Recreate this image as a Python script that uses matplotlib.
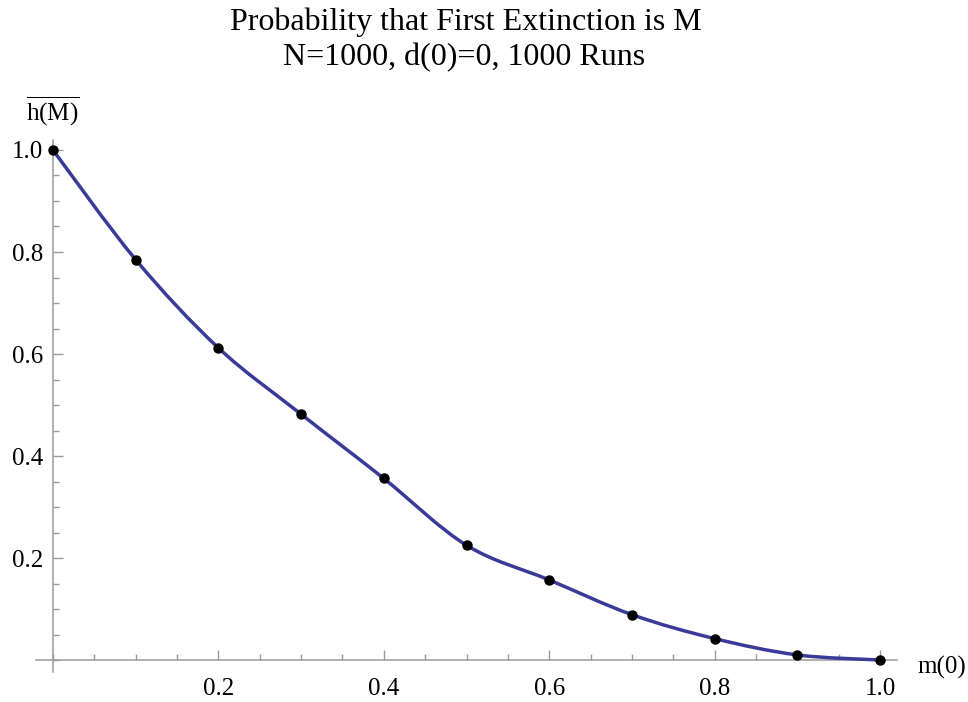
import numpy as np
import matplotlib
matplotlib.use("Agg")
import matplotlib.pyplot as plt
from matplotlib.path import Path
from matplotlib.patches import PathPatch
from matplotlib.ticker import MultipleLocator, FixedLocator

plt.rcParams['font.family'] = ['Liberation Serif', 'DejaVu Serif']
plt.rcParams['mathtext.fontset'] = 'custom'
plt.rcParams['mathtext.rm'] = 'Liberation Serif'

# data
m0 = [0.0, 0.1, 0.2, 0.3, 0.4, 0.5, 0.6, 0.7, 0.8, 0.9, 1.0]
hM = [1.0, 0.785, 0.612, 0.482, 0.356, 0.225, 0.157, 0.089, 0.042, 0.010, 0.0]
xticks = [0.2, 0.4, 0.6, 0.8, 1.0]
yticks = [0.2, 0.4, 0.6, 0.8, 1.0]

LINE_C = '#3a3a98'
AX_C = '#9a9a9a'

fig = plt.figure(figsize=(9.68, 7.02), dpi=100)
ax = fig.add_axes([36/968, 30/702, 861/968, 532/702])
ax.set_xlim(-0.0205, 1.0205)
ax.set_ylim(-0.0235, 1.0196)

# smooth curve through the points (catmull-rom as bezier segments)
P = np.column_stack([m0, hM])
P_ext = np.vstack([P[0], P, P[-1]])
verts = [tuple(P[0])]
codes = [Path.MOVETO]
for i in range(1, len(P_ext) - 2):
    p0, p1, p2, p3 = P_ext[i-1], P_ext[i], P_ext[i+1], P_ext[i+2]
    c1 = p1 + (p2 - p0) / 6.0
    c2 = p2 - (p3 - p1) / 6.0
    verts += [tuple(c1), tuple(c2), tuple(p2)]
    codes += [Path.CURVE4] * 3
ax.add_patch(PathPatch(Path(verts, codes), facecolor='none', edgecolor=LINE_C,
                       lw=2.5, capstyle='round', joinstyle='round', zorder=3))
ax.plot(m0, hM, 'o', color='black', ms=6.5, zorder=4, clip_on=False)

for s in ['top', 'right']:
    ax.spines[s].set_visible(False)
ax.spines['left'].set_position(('data', 0))
ax.spines['bottom'].set_position(('data', 0))
for s in ['left', 'bottom']:
    ax.spines[s].set_color(AX_C)
    ax.spines[s].set_linewidth(1.1)

ax.xaxis.set_major_locator(FixedLocator(xticks))
ax.yaxis.set_major_locator(FixedLocator(yticks))
ax.xaxis.set_minor_locator(MultipleLocator(0.05))
ax.yaxis.set_minor_locator(MultipleLocator(0.05))
ax.set_xticklabels(['%.1f' % v for v in xticks])
ax.set_yticklabels(['%.1f' % v for v in yticks])
ax.tick_params(which='both', direction='in', color=AX_C, width=1.0)
ax.tick_params(which='major', length=7)
ax.tick_params(which='minor', length=4)
ax.tick_params(axis='x', which='major', pad=13, labelsize=18)
ax.tick_params(axis='y', which='major', pad=7, labelsize=18)

fig.text(53/968, 1 - 111/702, r'$\overline{\mathrm{h(M)}}$', ha='center', va='center', fontsize=18)
fig.text(942/968, 1 - 667/702, 'm(0)', ha='center', va='center', fontsize=18)

fig.text(466/968, 1 - 30/702, 'Probability that First Extinction is M', ha='center', va='baseline', fontsize=23)
fig.text(464/968, 1 - 65/702, 'N=1000, d(0)=0, 1000 Runs', ha='center', va='baseline', fontsize=23)

fig.savefig('out.png', dpi=100)
